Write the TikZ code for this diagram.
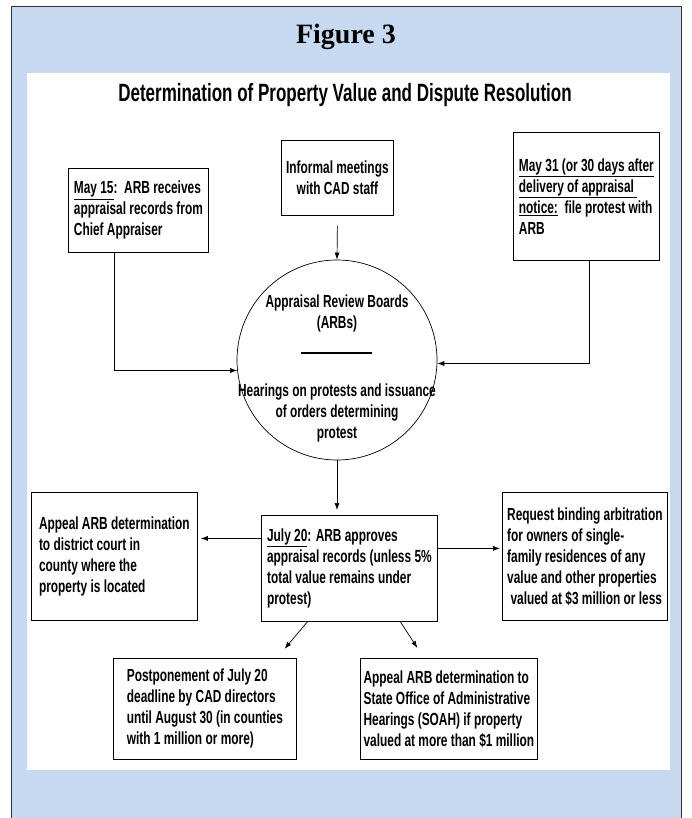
\documentclass[tikz,border=0pt]{standalone}
\usepackage{fontspec}
\setmainfont{Liberation Serif}
\newfontfamily\narrowsans[FakeStretch=0.68]{Liberation Sans}
\usetikzlibrary{arrows.meta}
\definecolor{panelblue}{HTML}{C6D9F1}
\newcommand{\flowfont}{\narrowsans\bfseries\fontsize{17.5pt}{21pt}\selectfont}

\begin{document}
\begin{tikzpicture}[x=1pt, y=-1pt,
  box/.style={draw, line width=0.8pt, align=left, inner sep=0pt, anchor=north west, font=\flowfont},
  txt/.style={align=center, inner sep=0pt, font=\flowfont},
  arr/.style={-{Latex[length=7pt,width=5pt]}, line width=0.7pt}]
\useasboundingbox (0,0) rectangle (691,818);
% ----- panel and headings -----
\draw[fill=panelblue, draw=black!80, line width=1pt] (11,7) rectangle (681,840);
\fill[white] (27,73) rectangle (670,770);
\node (fig) at (346,37) {\fontsize{28pt}{32pt}\selectfont\bfseries Figure 3};
\node (title) at (345,95)
  {\narrowsans\bfseries\fontsize{25pt}{30pt}\selectfont Determination of Property Value and Dispute Resolution};
% ----- top row -----
\node[box, minimum width=140pt, minimum height=84pt] (may15) at (68,168)
  {\underline{May 15}:\ \ ARB receives\\appraisal records from\\Chief Appraiser};
\node[box, align=center, minimum width=112pt, minimum height=75pt] (informal) at (281,140)
  {Informal meetings\\with CAD staff};
\node[box, minimum width=146pt, minimum height=128pt] (may31) at (513,132)
  {\underline{May 31 (or 30 days after}\\\underline{delivery of appraisal\ }\\\underline{notice:}\ \ file protest with\\ARB};
% ----- the boards -----
\node[draw, circle, minimum size=200pt, inner sep=0pt, line width=0.7pt] (arb) at (337,360) {};
\node[txt] (arbtop) at (337,313) {Appraisal Review Boards\\(ARBs)};
\draw[line width=1.8pt] (301,353) -- (372,353);
\node[txt] (arbbot) at (337,413) {Hearings on protests and issuance\\of orders determining\\protest};
% ----- middle row -----
\node[box, minimum width=176pt, minimum height=106pt] (july20) at (261,515)
  {\underline{July 20}: ARB approves\\appraisal records (unless 5\%\\total value remains under\\protest)};
\node[box, minimum width=166pt, minimum height=128pt] (court) at (31,492)
  {Appeal ARB determination\\to district court in\\county where the\\property is located};
\node[box, minimum width=165pt, minimum height=128pt] (arbitr) at (502,492)
  {Request binding arbitration\\for owners of single-\\family residences of any\\value and other properties\\\ valued at \$3 million or less};
% ----- bottom row -----
\node[box, minimum width=183pt, minimum height=101pt] (postpone) at (113,658)
  {Postponement of July 20\\deadline by CAD directors\\until August 30 (in counties\\with 1 million or more)};
\node[box, minimum width=177pt, minimum height=101pt] (soah) at (360,658)
  {Appeal ARB determination to\\State Office of Administrative\\Hearings (SOAH) if property\\valued at more than \$1 million};
% ----- connectors -----
\draw[arr] ([yshift=-10pt]informal.south) -- (arb.north);
\draw[arr] ([xshift=-24pt]may15.south) |- (arb.186);
\draw[arr] ([xshift=3pt]may31.south) |- (arb.358);
\draw[arr, shorten >=5pt] (arb.south) -- (arb.south |- july20.north);
\draw[arr, shorten >=3pt] ([yshift=30pt]july20.west) -- ([yshift=18pt]court.east);
\draw[arr, shorten >=2pt] ([yshift=20pt]july20.east) -- ([yshift=8pt]arbitr.west);
\draw[arr, shorten >=12pt] ([xshift=-42pt]july20.south) -- ([xshift=72pt]postpone.north);
\draw[arr, shorten >=12pt] ([xshift=51pt]july20.south) -- ([xshift=-25pt]soah.north);
\end{tikzpicture}
\end{document}
